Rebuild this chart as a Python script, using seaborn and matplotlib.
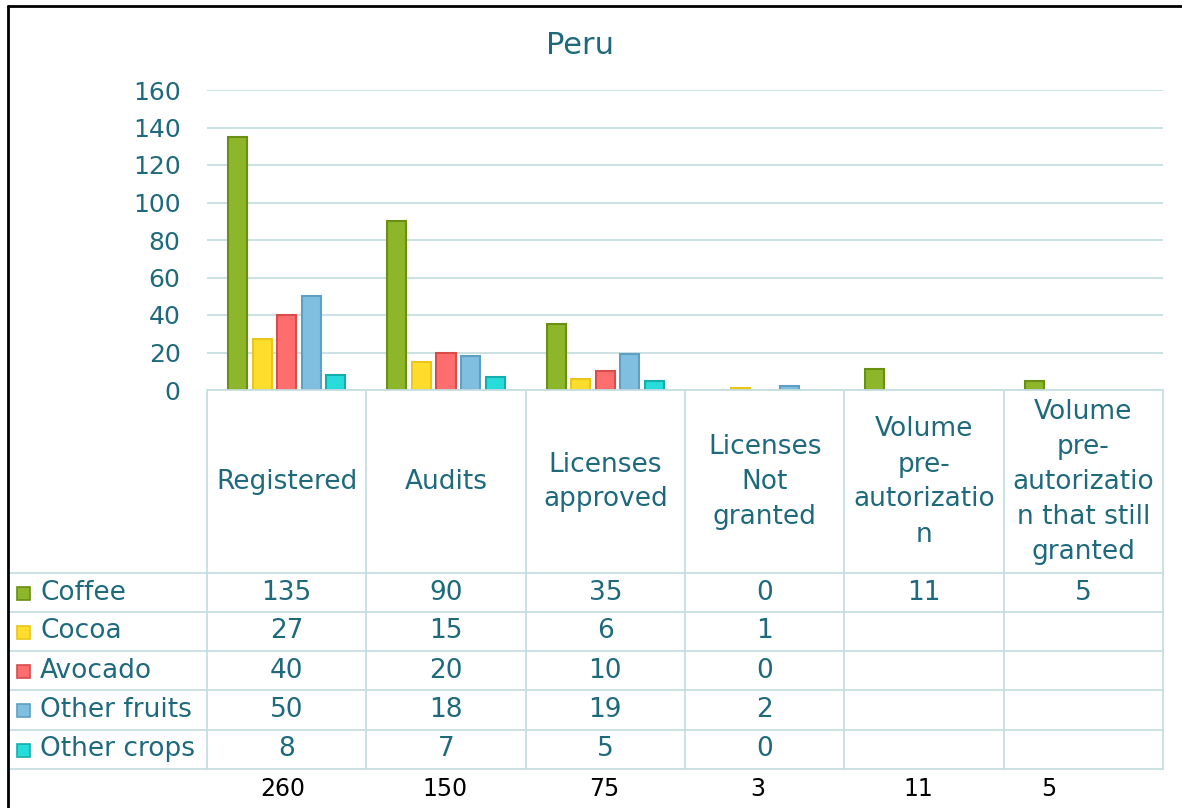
import numpy as np
import pandas as pd
import matplotlib
matplotlib.use("Agg")
import matplotlib.pyplot as plt
import seaborn as sns
from matplotlib.lines import Line2D
from matplotlib.patches import Rectangle

# =========================
# DATA
# =========================
categories = ["Registered", "Audits", "Licenses\napproved", "Licenses\nNot\ngranted",
              "Volume\npre-\nautorizatio\nn",
              "Volume\npre-\nautorizatio\nn that still\ngranted"]
crops = ["Coffee", "Cocoa", "Avocado", "Other fruits", "Other crops"]
coffee = [135, 90, 35, 0, 11, 5]
cocoa = [27, 15, 6, 1, np.nan, np.nan]
avocado = [40, 20, 10, 0, np.nan, np.nan]
other_fruits = [50, 18, 19, 2, np.nan, np.nan]
other_crops = [8, 7, 5, 0, np.nan, np.nan]
totals = [260, 150, 75, 3, 11, 5]
yticks = [0, 20, 40, 60, 80, 100, 120, 140, 160]

series = [coffee, cocoa, avocado, other_fruits, other_crops]
face_colors = ["#8DB62A", "#FFDD2C", "#FF6E6E", "#80BFDF", "#28DCDC"]
edge_colors = ["#6A8F12", "#E9C618", "#D84C4C", "#5E9FC3", "#16ADAD"]
teal = "#1E6A7C"
grid_col = "#C6DEE2"

rows = []
for crop, vals in zip(crops, series):
    for cat, v in zip(categories, vals):
        rows.append({"category": cat, "crop": crop, "value": v})
df = pd.DataFrame(rows)

# =========================
# FIGURE
# =========================
W, H = 1182, 808
sns.set_style("white")
plt.rcParams["font.family"] = ["DejaVu Sans"]
plt.rcParams["font.size"] = 18

fig = plt.figure(figsize=(W / 100, H / 100), dpi=100)
fx = lambda x: x / W
fy = lambda y: 1 - y / H

ax_left, ax_right, ax_top, ax_bot = 207, 1163, 90, 390
ax = fig.add_axes([fx(ax_left), fy(ax_bot), fx(ax_right - ax_left), fy(ax_top) - fy(ax_bot)])

sns.barplot(data=df, x="category", y="value", hue="crop", order=categories,
            hue_order=crops, palette=face_colors, width=0.77, gap=0.22,
            linewidth=1.5, saturation=1, legend=False, ax=ax)

# bar edge colours per crop, zero bars hidden like Excel
for cont, ec in zip(ax.containers, edge_colors):
    for bar in cont:
        bar.set_edgecolor(ec)
        if bar.get_height() == 0:
            bar.set_visible(False)

ax.set_xlim(-0.5, len(categories) - 0.5)
ax.set_ylim(0, 160)
ax.set_yticks(yticks)
ax.set_yticklabels([str(t) for t in yticks], color=teal, fontsize=18)
ax.tick_params(axis="y", length=0, pad=19)
ax.set_xticks([])
ax.set_xlabel("")
ax.set_ylabel("")
ax.grid(axis="y", color=grid_col, linewidth=1.3)
ax.set_axisbelow(True)
sns.despine(ax=ax, left=True, bottom=True, top=True, right=True)

fig.text(fx(580), fy(45), "Peru", ha="center", va="center", color=teal, fontsize=22)

# =========================
# DATA TABLE
# =========================
col_edges = np.linspace(ax_left, ax_right, len(categories) + 1)
col_centers = (col_edges[:-1] + col_edges[1:]) / 2
row_lines = [573, 612, 651, 690, 730, 769]
table_left = 8

def line(x0, x1, y0, y1, color=grid_col, lw=1.3):
    fig.add_artist(Line2D([fx(x0), fx(x1)], [fy(y0), fy(y1)], color=color,
                          linewidth=lw, transform=fig.transFigure))

line(ax_left, ax_right, ax_bot, ax_bot)
for x in col_edges:
    line(x, x, ax_bot, row_lines[-1])
for y in row_lines:
    line(table_left, ax_right, y, y)

# header
for cx, cat in zip(col_centers, categories):
    fig.text(fx(cx), fy(482), cat, ha="center", va="center", color=teal,
             fontsize=19, linespacing=1.45)

# rows
for i, (crop, vals, fc, ec) in enumerate(zip(crops, series, face_colors, edge_colors)):
    yc = (row_lines[i] + row_lines[i + 1]) / 2
    fig.add_artist(Rectangle((fx(17), fy(yc + 7)), fx(13), fy(yc - 6) - fy(yc + 7),
                             facecolor=fc, edgecolor=ec, linewidth=1.2,
                             transform=fig.transFigure))
    fig.text(fx(40), fy(yc), crop, ha="left", va="center", color=teal, fontsize=19)
    for cx, v in zip(col_centers, vals):
        if not np.isnan(v):
            fig.text(fx(cx), fy(yc), f"{v:g}", ha="center", va="center",
                     color=teal, fontsize=19)

# totals
total_x = [283, 445, 604, 758, 918, 1049]
for tx, t in zip(total_x, totals):
    fig.text(fx(tx), fy(789), str(t), ha="center", va="center", color="black", fontsize=17)

# frame
line(8, 8, 6, H, color="black", lw=2)
line(8, W, 6, 6, color="black", lw=2)

plt.savefig("out.png", dpi=100)
plt.close()
